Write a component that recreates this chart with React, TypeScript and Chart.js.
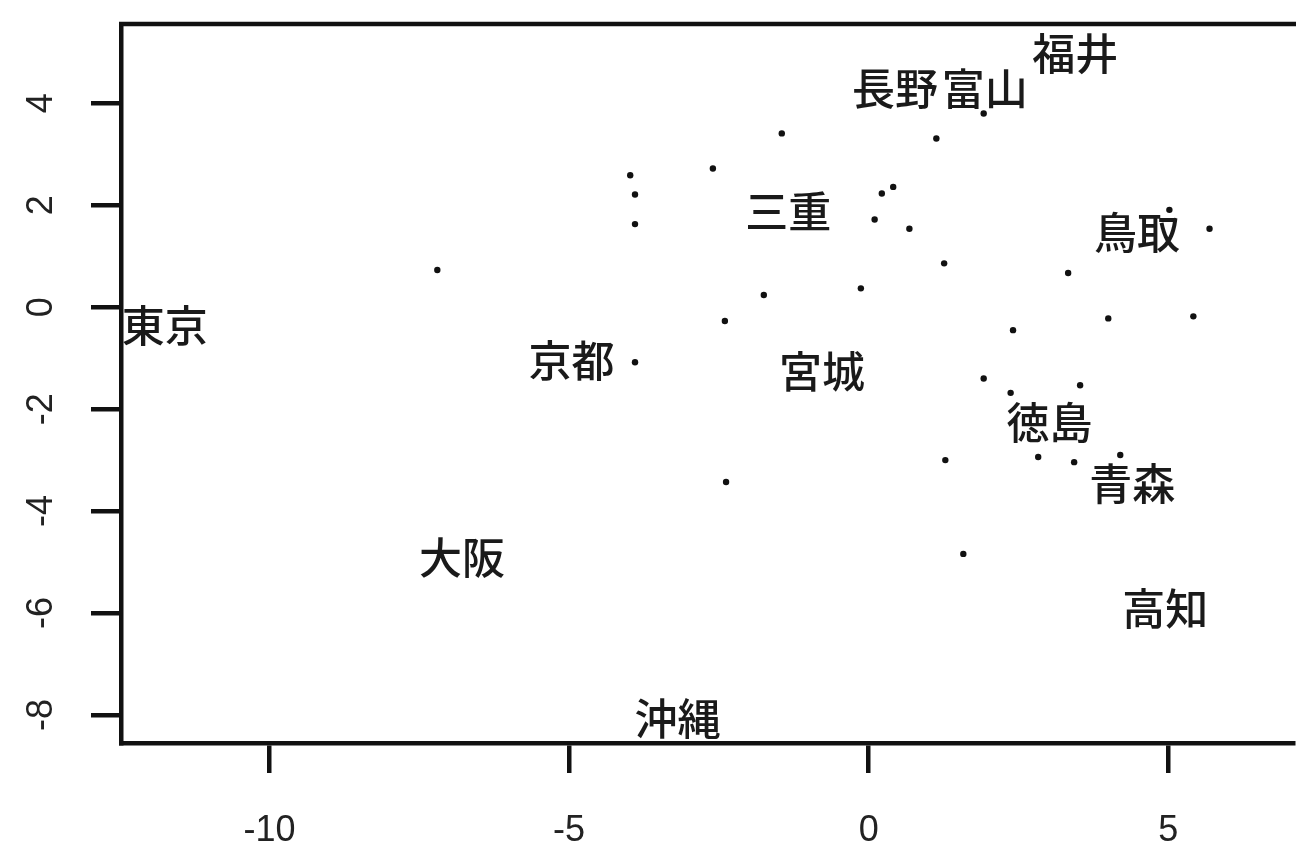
import React, { useEffect, useRef } from 'react';
import { Chart, registerables } from 'chart.js';

Chart.register(...registerables);

// Tick values
const xTicks = [-10, -5, 0, 5];
const yTicks = [-8, -6, -4, -2, 0, 2, 4];

// Unlabelled points (dots)
const dotX = [-7.2, -1.45, -2.6, -3.98, -3.9, -3.9, -1.75, -2.4, -3.9, 1.92, 1.13, 0.22, 0.41, 0.1, 0.68, 5.02, 5.69, 1.26, -0.13, 3.33, 4.0, 5.42, 2.41, 1.92, 2.37, 3.53, -2.38, 1.28, 2.83, 3.43, 4.2, 1.58];
const dotY = [0.73, 3.41, 2.72, 2.59, 2.21, 1.63, 0.24, -0.27, -1.08, 3.8, 3.31, 2.23, 2.36, 1.72, 1.54, 1.91, 1.54, 0.86, 0.37, 0.67, -0.22, -0.18, -0.45, -1.4, -1.68, -1.53, -3.43, -3.0, -2.94, -3.04, -2.9, -4.84];

// Labelled points (text drawn at the point)
const labelText = ['東京', '京都', '三重', '宮城', '長野', '富山', '福井', '鳥取', '徳島', '青森', '高知', '大阪', '沖縄'];
const labelX = [-11.75, -4.96, -1.34, -0.78, 0.44, 1.94, 3.45, 4.48, 3.02, 4.4, 4.95, -6.79, -3.19];
const labelY = [-0.37, -1.04, 1.88, -1.27, 4.28, 4.28, 4.98, 1.47, -2.27, -3.47, -5.92, -4.92, -8.08];

const X_MIN = -12.48;
const X_MAX = 7.08;
const Y_MIN = -8.55;
const Y_MAX = 5.556;

const FONT_FAMILY = "'Liberation Sans', Arial, 'Noto Sans CJK JP', sans-serif";
const CJK_FAMILY = "'Noto Sans CJK JP', 'Liberation Sans', sans-serif";

const framePlugin = {
  id: 'framePlugin',
  afterDatasetsDraw(chart: any) {
    const { ctx, chartArea, scales } = chart;
    const xs = scales.x;
    const ys = scales.y;
    ctx.save();
    // top frame line
    ctx.strokeStyle = '#111';
    ctx.lineWidth = 4.5;
    ctx.beginPath();
    ctx.moveTo(chartArea.left - 2, chartArea.top);
    ctx.lineTo(chart.width + 2, chartArea.top);
    ctx.stroke();
    // text labels
    ctx.fillStyle = '#1a1a1a';
    ctx.font = `500 43px ${CJK_FAMILY}`;
    ctx.textAlign = 'center';
    ctx.textBaseline = 'middle';
    for (let i = 0; i < labelText.length; i++) {
      const px = xs.getPixelForValue(labelX[i]);
      const py = ys.getPixelForValue(labelY[i]);
      ctx.fillText(labelText[i], px, py);
    }
    ctx.restore();
  },
};

export default function App() {
  const canvasRef = useRef<HTMLCanvasElement | null>(null);

  useEffect(() => {
    document.body.style.margin = '0';
    document.body.style.background = '#fff';
    const canvas = canvasRef.current;
    if (!canvas) return;
    const chart = new Chart(canvas, {
      type: 'scatter',
      data: {
        datasets: [
          {
            data: dotX.map((x, i) => ({ x, y: dotY[i] })),
            pointRadius: 3.2,
            pointHoverRadius: 3.2,
            pointBorderWidth: 0,
            backgroundColor: '#111',
            borderColor: '#111',
          },
        ],
      },
      options: {
        animation: false,
        responsive: true,
        maintainAspectRatio: false,
        layout: { padding: { top: 24, right: 0, left: 0, bottom: 0 } },
        plugins: {
          legend: { display: false },
          tooltip: { enabled: false },
        },
        scales: {
          x: {
            type: 'linear',
            min: X_MIN,
            max: X_MAX,
            afterBuildTicks: (scale: any) => {
              scale.ticks = xTicks.map((v) => ({ value: v }));
            },
            afterFit: (scale: any) => {
              scale.height = 106;
              scale.paddingLeft = 0;
              scale.paddingRight = 0;
            },
            grid: {
              drawOnChartArea: false,
              drawTicks: true,
              tickLength: 30,
              lineWidth: 4.5,
              color: '#111',
            },
            border: { display: true, width: 4.5, color: '#111' },
            ticks: {
              padding: 36,
              color: '#222',
              font: { family: FONT_FAMILY, size: 36 },
              maxRotation: 0,
              minRotation: 0,
            },
          },
          y: {
            type: 'linear',
            min: Y_MIN,
            max: Y_MAX,
            afterBuildTicks: (scale: any) => {
              scale.ticks = yTicks.map((v) => ({ value: v }));
            },
            afterFit: (scale: any) => {
              scale.width = 121;
              scale.paddingTop = 0;
              scale.paddingBottom = 0;
            },
            grid: {
              drawOnChartArea: false,
              drawTicks: true,
              tickLength: 30,
              lineWidth: 4.5,
              color: '#111',
            },
            border: { display: true, width: 4.5, color: '#111' },
            ticks: {
              padding: 33,
              color: '#222',
              font: { family: FONT_FAMILY, size: 36 },
              minRotation: 90,
              maxRotation: 90,
              crossAlign: 'center',
            },
          },
        },
      },
      plugins: [framePlugin],
    });
    return () => chart.destroy();
  }, []);

  return (
    <div style={{ position: 'fixed', left: 0, top: 0, width: 1296, height: 849, background: '#fff' }}>
      <canvas ref={canvasRef} />
    </div>
  );
}
